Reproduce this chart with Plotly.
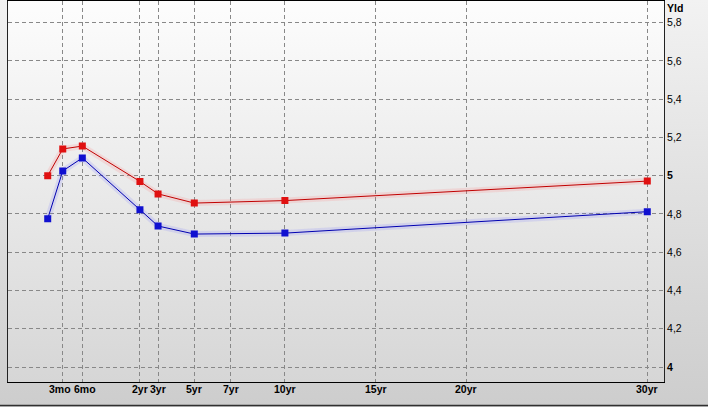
import plotly.graph_objects as go

# ---- data ----
maturities = ["1mo", "3mo", "6mo", "2yr", "3yr", "5yr", "10yr", "30yr"]
maturity_axis_pos = [-3.09, -2.26, -1.18, 2, 3, 5, 10, 30]
yield_red = [5.00, 5.14, 5.155, 4.97, 4.905, 4.857, 4.87, 4.972]
yield_blue = [4.775, 5.025, 5.093, 4.822, 4.737, 4.695, 4.70, 4.812]

x_tick_labels = ["3mo", "6mo", "2yr", "3yr", "5yr", "7yr", "10yr", "15yr", "20yr", "30yr"]
x_tick_pos = [-2.26, -1.18, 2, 3, 5, 7, 10, 15, 20, 30]
y_tick_vals = [4.0, 4.2, 4.4, 4.6, 4.8, 5.0, 5.2, 5.4, 5.6, 5.8]
y_tick_text = ["<b>4</b>", "4,2", "4,4", "4,6", "4,8", "<b>5</b>", "5,2", "5,4", "5,6", "5,8"]

W, H = 708, 407
PL, PR, PT, PB = 8, 664, 0.5, 382
xdom = [PL / W, PR / W]
ydom = [(H - PB) / H, (H - PT) / H]

# the two close short-end labels are nudged apart, as in the original
label_nudge = {"3mo": -3, "6mo": 3}

fig = go.Figure()

# outer background gradient
fig.add_trace(go.Scatter(
    x=[0, 1, 1, 0, 0], y=[0, 0, 1, 1, 0], mode="lines", fill="toself",
    fillgradient=dict(type="vertical", colorscale=[[0, "#cdcdcd"], [1, "#f2f2f2"]]),
    line=dict(width=0), hoverinfo="skip", showlegend=False, xaxis="x", yaxis="y"))
# plot area gradient
fig.add_trace(go.Scatter(
    x=[0, 1, 1, 0, 0], y=[0, 0, 1, 1, 0], mode="lines", fill="toself",
    fillgradient=dict(type="vertical", colorscale=[[0, "#d6d6d6"], [1, "#fdfdfd"]]),
    line=dict(width=0), hoverinfo="skip", showlegend=False, xaxis="x2", yaxis="y2"))

# glow lines
fig.add_trace(go.Scatter(x=maturity_axis_pos, y=yield_red, mode="lines",
                         line=dict(color="rgba(255,120,120,0.18)", width=6),
                         hoverinfo="skip", showlegend=False, xaxis="x3", yaxis="y3"))
fig.add_trace(go.Scatter(x=maturity_axis_pos, y=yield_blue, mode="lines",
                         line=dict(color="rgba(120,120,255,0.18)", width=6),
                         hoverinfo="skip", showlegend=False, xaxis="x3", yaxis="y3"))

fig.add_trace(go.Scatter(x=maturity_axis_pos, y=yield_red, mode="lines+markers", name="red",
                         text=maturities,
                         line=dict(color="#c00000", width=1),
                         marker=dict(symbol="square", size=7, color="#e01010"),
                         showlegend=False, xaxis="x3", yaxis="y3"))
fig.add_trace(go.Scatter(x=maturity_axis_pos, y=yield_blue, mode="lines+markers", name="blue",
                         text=maturities,
                         line=dict(color="#0000b0", width=1),
                         marker=dict(symbol="square", size=7, color="#1010d0"),
                         showlegend=False, xaxis="x3", yaxis="y3"))

hidden = dict(visible=False, fixedrange=True)
ppx = 18.12  # px per axis unit
x0px = 103.7
ypx = 191.3
lab_font = dict(family="Liberation Sans", size=10.5, color="#000000")

annotations = [dict(text="<b>%s</b>" % t, xref="x3", yref="paper", x=p,
                    y=(H - 389) / H, xanchor="center", yanchor="middle",
                    xshift=label_nudge.get(t, 0), showarrow=False, font=lab_font)
               for t, p in zip(x_tick_labels, x_tick_pos)]
annotations.append(dict(text="<b>Yld</b>", xref="paper", yref="paper",
                        x=(PR + 1) / W, y=1 - 8 / H, xanchor="left", yanchor="middle",
                        showarrow=False, font=lab_font))

fig.update_layout(
    width=W, height=H,
    margin=dict(l=0, r=0, t=0, b=0, autoexpand=False),
    paper_bgcolor="#e0e0e0",
    plot_bgcolor="rgba(0,0,0,0)",
    showlegend=False,
    xaxis=dict(domain=[0, 1], range=[0, 1], **hidden),
    yaxis=dict(domain=[0, 1], range=[0, 1], **hidden),
    xaxis2=dict(domain=xdom, range=[0, 1], anchor="y2", **hidden),
    yaxis2=dict(domain=ydom, range=[0, 1], anchor="x2", **hidden),
    xaxis3=dict(domain=xdom, anchor="y3",
                range=[(PL - x0px) / ppx, (PR - x0px) / ppx],
                tickmode="array", tickvals=x_tick_pos, showticklabels=False,
                ticks="", showgrid=True, gridcolor="#888888", gridwidth=1,
                griddash="4px,3px", zeroline=False,
                showline=True, linecolor="#000000", linewidth=1, mirror=True),
    yaxis3=dict(domain=ydom, anchor="x3", side="right",
                range=[4 - (PB - 367) / ypx, 5.8 + (22.7 - PT) / ypx],
                tickmode="array", tickvals=y_tick_vals, ticktext=y_tick_text,
                ticks="", showgrid=True, gridcolor="#888888", gridwidth=1,
                griddash="4px,3px", zeroline=False,
                showline=True, linecolor="#222222", linewidth=1, mirror=True,
                ticklabelstandoff=0, tickfont=lab_font),
    annotations=annotations,
    shapes=[dict(type="line", xref="paper", yref="paper", x0=0, x1=1,
                 y0=1.5 / H, y1=1.5 / H, line=dict(color="#303030", width=1.5))],
)

fig.write_html("out.html",
               config={"displayModeBar": False},
               post_script="document.body.style.margin='0';document.body.style.padding='0';")
